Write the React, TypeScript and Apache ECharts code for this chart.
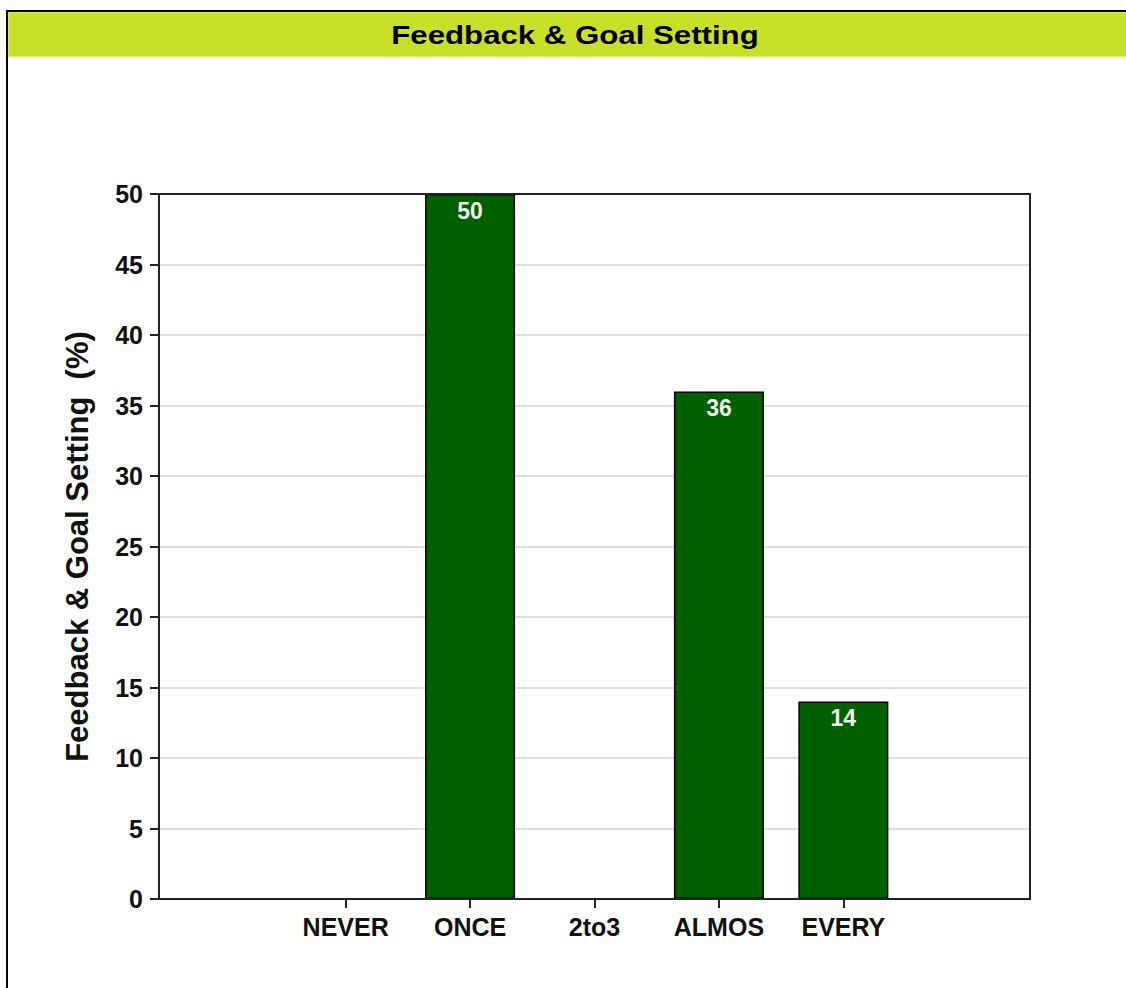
import React, { useEffect, useRef } from "react";
import * as echarts from "echarts";

const categories = ["", "NEVER", "ONCE", "2to3", "ALMOS", "EVERY", " "];
const values: (number | null)[] = [null, 0, 50, 0, 36, 14, null];
const yTicks = [0, 5, 10, 15, 20, 25, 30, 35, 40, 45, 50];
const titleText = "Feedback & Goal Setting";
const yAxisTitle = "Feedback & Goal Setting  (%)";

export default function App() {
  const ref = useRef<HTMLDivElement>(null);
  useEffect(() => {
    if (!ref.current) return;
    const chart = echarts.init(ref.current, null, { renderer: "svg" });
    const font = "Liberation Sans, Arial, sans-serif";
    chart.setOption({
      animation: false,
      backgroundColor: "#ffffff",
      grid: { left: 159, top: 194, right: 96, bottom: 89, containLabel: false },
      graphic: [
        {
          type: "rect",
          shape: { x: 8, y: 12, width: 1130, height: 45 },
          style: { fill: "#c8e028", stroke: "#e4f08a", lineWidth: 1.5 },
        },
        {
          type: "line",
          shape: { x1: 7, y1: 11, x2: 1126, y2: 11 },
          style: { stroke: "#000", lineWidth: 2 },
        },
        {
          type: "line",
          shape: { x1: 7, y1: 10, x2: 7, y2: 988 },
          style: { stroke: "#000", lineWidth: 2 },
        },
        {
          type: "text",
          x: 575,
          y: 35,
          scaleX: 1.2,
          style: {
            text: titleText,
            font: `bold 26px ${font}`,
            fill: "#000",
            textAlign: "center",
            textVerticalAlign: "middle",
          },
        },
        {
          type: "rect",
          shape: { x: 159, y: 194, width: 871, height: 705 },
          style: { fill: "none", stroke: "#222", lineWidth: 2 },
          z: 10,
        },
      ],
      xAxis: {
        type: "category",
        data: categories,
        boundaryGap: true,
        axisLine: { show: true, lineStyle: { color: "#222", width: 2 } },
        axisTick: {
          show: true,
          alignWithLabel: true,
          interval: (i: number) => i > 0 && i < categories.length - 1,
          length: 9,
          lineStyle: { color: "#222", width: 2 },
        },
        axisLabel: {
          interval: 0,
          margin: 15,
          fontFamily: font,
          fontWeight: "bold",
          fontSize: 25,
          color: "#111",
        },
        splitLine: { show: false },
      },
      yAxis: {
        type: "value",
        min: 0,
        max: 50,
        interval: 5,
        name: yAxisTitle,
        nameLocation: "middle",
        nameGap: 66,
        nameTextStyle: {
          fontFamily: font,
          fontWeight: "bold",
          fontSize: 31,
          color: "#111",
        },
        axisLine: { show: true, lineStyle: { color: "#222", width: 2 } },
        axisTick: { show: true, length: 9, lineStyle: { color: "#222", width: 2 } },
        axisLabel: {
          margin: 16,
          fontFamily: font,
          fontWeight: "bold",
          fontSize: 25,
          color: "#111",
          formatter: (v: number) => (yTicks.includes(v) ? String(v) : ""),
        },
        splitLine: { show: true, lineStyle: { color: "#d4d4d4", width: 1.5 } },
      },
      series: [
        {
          type: "bar",
          data: values,
          barWidth: 90,
          itemStyle: { color: "#006000", borderColor: "#000", borderWidth: 1.5 },
          label: {
            show: true,
            position: "insideTop",
            distance: 5,
            fontFamily: font,
            fontWeight: "bold",
            fontSize: 23,
            color: "#f0f0f0",
            formatter: (p: any) => (p.value ? String(p.value) : ""),
          },
        },
      ],
    });
    return () => chart.dispose();
  }, []);
  return (
    <div
      ref={ref}
      style={{ position: "absolute", left: 0, top: 0, width: 1126, height: 988 }}
    />
  );
}
